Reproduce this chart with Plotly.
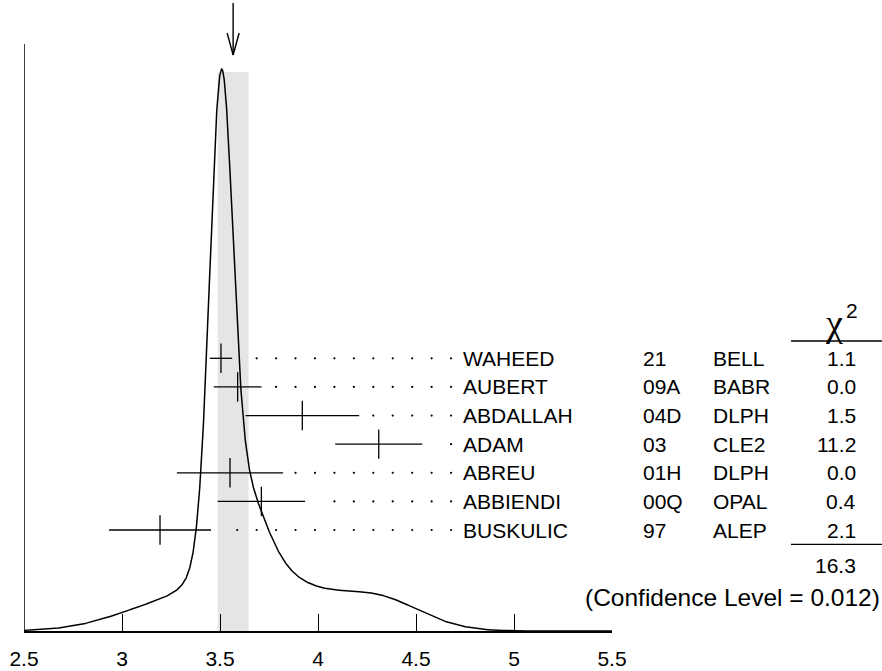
import numpy as np
import plotly.graph_objects as go

# ---------------- data ----------------
names = ["WAHEED", "AUBERT", "ABDALLAH", "ADAM", "ABREU", "ABBIENDI", "BUSKULIC"]
years = ["21", "09A", "04D", "03", "01H", "00Q", "97"]
experiments = ["BELL", "BABR", "DLPH", "CLE2", "DLPH", "OPAL", "ALEP"]
values = [3.505, 3.590, 3.920, 4.310, 3.551, 3.711, 3.194]
errors = [0.057, 0.122, 0.290, 0.222, 0.271, 0.223, 0.260]
chi2 = ["1.1", "0.0", "1.5", "11.2", "0.0", "0.4", "2.1"]
chi2_total = "16.3"
confidence_level = "0.012"
mean_value = 3.567
mean_error = 0.079
tick_vals = [2.5, 3.0, 3.5, 4.0, 4.5, 5.0, 5.5]
tick_text = ["2.5", "3", "3.5", "4", "4.5", "5", "5.5"]

# ---------------- layout geometry ----------------
W, H = 882, 671
ML, MR, MT, MB = 24, 270, 0, 40
PW = W - ML - MR            # plot width in px
BASE = H - MB               # pixel row of the x axis
FONT = "Liberation Sans, Arial, Helvetica, sans-serif"
FS = 21

def yv(pix):               # data y (1 unit = 1 px) from a pixel row
    return BASE - pix

def xp(pix):               # paper x from a pixel column
    return (pix - ML) / PW

PEAK = yv(69)
row_y = [yv(358.3 + 28.62 * i) for i in range(len(names))]

# ideogram: sum of gaussians, each with area proportional to 1/sigma
grid = np.linspace(2.5, 5.5, 3001)
ideo = np.zeros_like(grid)
for v, e in zip(values, errors):
    ideo += (1.0 / e ** 2) * np.exp(-0.5 * ((grid - v) / e) ** 2)
ideo = ideo / ideo.max() * PEAK

# dotted leaders
dot_grid = 4.679 - 0.0992 * np.arange(0, 30)
dots_x, dots_y = [], []
for v, e, y in zip(values, errors, row_y):
    for dx in dot_grid:
        if dx > v + e + 0.06:
            dots_x.append(dx)
            dots_y.append(y)

fig = go.Figure()
fig.add_trace(go.Scatter(x=grid, y=ideo, mode="lines",
                         line=dict(color="black", width=1.5),
                         hoverinfo="skip", showlegend=False))
fig.add_trace(go.Scatter(x=dots_x, y=dots_y, mode="markers",
                         marker=dict(color="black", size=2.2),
                         hoverinfo="skip", showlegend=False))
fig.add_trace(go.Scatter(x=values, y=row_y, mode="markers",
                         marker=dict(symbol="line-ns", size=21,
                                     line=dict(color="black", width=1.3)),
                         error_x=dict(type="data", array=errors, width=0,
                                      thickness=1.3, color="black"),
                         showlegend=False))

shapes = [
    dict(type="rect", xref="x", yref="y", x0=mean_value - mean_error,
         x1=mean_value + mean_error, y0=0, y1=yv(72), fillcolor="#e5e5e5",
         line=dict(width=0), layer="below"),
    # y axis line
    dict(type="line", xref="x", yref="y", x0=2.5, x1=2.5, y0=0, y1=yv(44),
         line=dict(color="black", width=1.5)),
    # arrow at mean
    dict(type="line", xref="x", yref="y", x0=mean_value, x1=mean_value,
         y0=yv(3), y1=yv(55), line=dict(color="black", width=1.4)),
    dict(type="line", xref="x", yref="y", x0=mean_value - 6 / 196, x1=mean_value,
         y0=yv(33), y1=yv(55), line=dict(color="black", width=1.4)),
    dict(type="line", xref="x", yref="y", x0=mean_value + 6 / 196, x1=mean_value,
         y0=yv(33), y1=yv(55), line=dict(color="black", width=1.4)),
    # chi2 column lines
    dict(type="line", xref="paper", yref="y", x0=xp(791), x1=xp(882),
         y0=yv(341), y1=yv(341), line=dict(color="black", width=1.3)),
    dict(type="line", xref="paper", yref="y", x0=xp(791), x1=xp(882),
         y0=yv(544.3), y1=yv(544.3), line=dict(color="black", width=1.3)),
]

ann = []
def txt(text, px, y, anchor, size=FS, family=FONT):
    ann.append(dict(text=text, x=xp(px), y=y, xref="paper", yref="y",
                    xanchor=anchor, yanchor="middle", showarrow=False,
                    font=dict(family=family, size=size, color="black")))

for n, yr, ex, c, y in zip(names, years, experiments, chi2, row_y):
    txt(n, 461, y, "left")
    txt(yr, 641, y, "left")
    txt(ex, 711, y, "left")
    txt(c, 858, y, "right")

txt("\u03c7", 834, yv(323), "center", size=38,
    family="Liberation Serif, DejaVu Serif, serif")
txt("2", 852, yv(310), "center", size=FS)
txt(chi2_total, 858, yv(565), "right")
txt("(Confidence Level = " + confidence_level + ")", 882, yv(597), "right",
    size=24.5)

fig.update_layout(
    width=W, height=H,
    margin=dict(l=ML, r=MR, t=MT, b=MB, pad=0),
    paper_bgcolor="white", plot_bgcolor="white",
    shapes=shapes, annotations=ann,
    xaxis=dict(range=[2.5, 5.5], showgrid=False, zeroline=False,
               showline=True, linecolor="black", linewidth=1.5,
               ticks="inside", ticklen=17, tickwidth=1.3, tickcolor="black",
               tickvals=tick_vals, ticktext=tick_text, ticklabelstandoff=8,
               tickfont=dict(family=FONT, size=FS, color="black")),
    yaxis=dict(range=[0, BASE], visible=False, showgrid=False, zeroline=False),
    font=dict(family=FONT, color="black"),
)

fig.write_html("out.html", config={"displayModeBar": False},
               post_script="document.body.style.margin='0px';"
                           "document.body.style.overflow='hidden';")
